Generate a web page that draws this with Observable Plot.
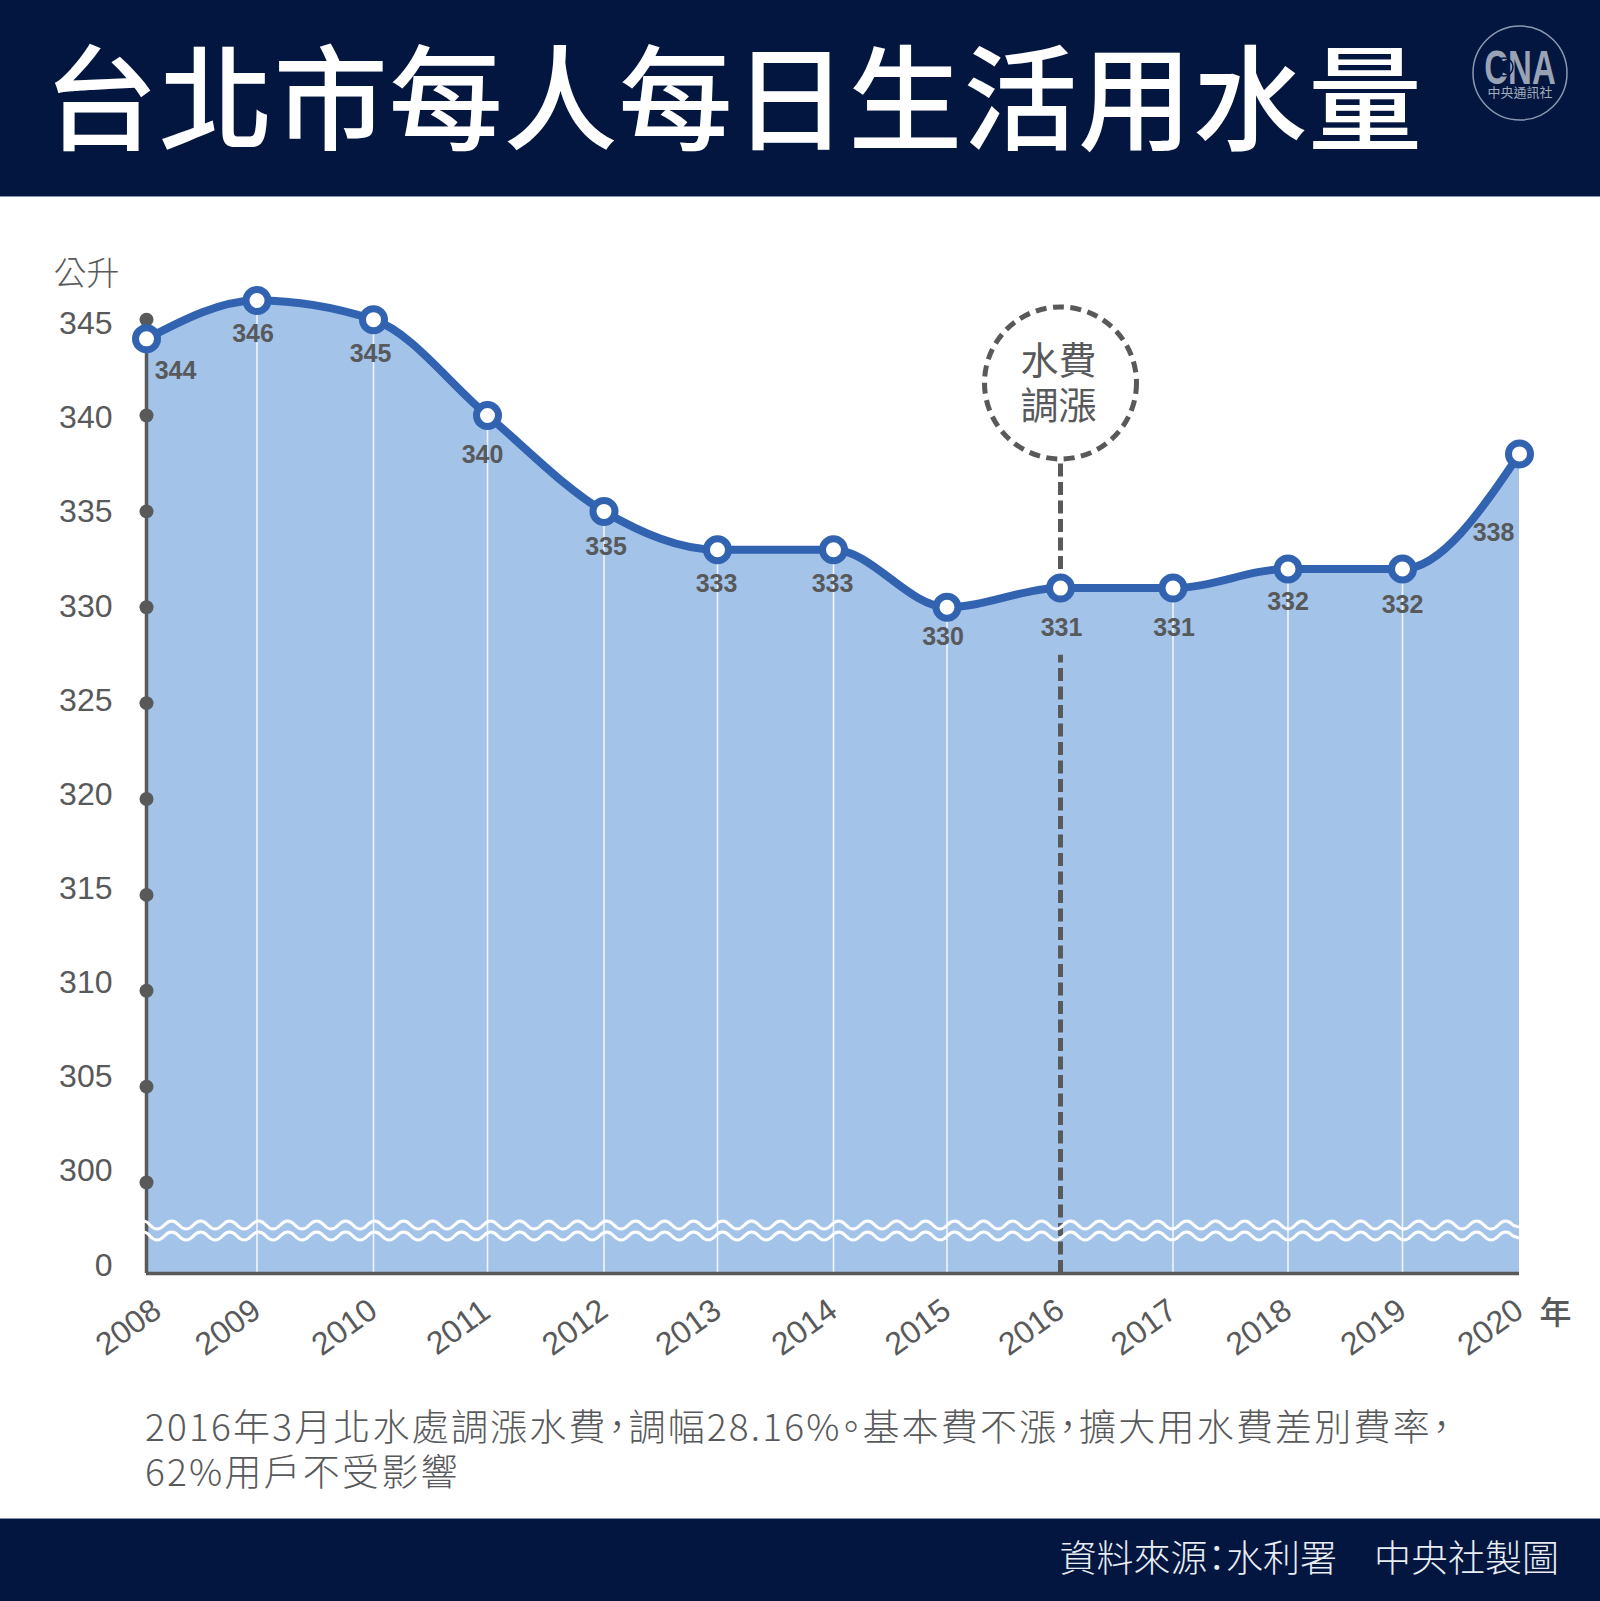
<!DOCTYPE html>
<html lang="zh-Hant">
<head>
<meta charset="utf-8">
<script src="https://cdn.jsdelivr.net/npm/d3@7"></script>
<script src="https://cdn.jsdelivr.net/npm/@observablehq/plot@0.6"></script>
<style>
  html, body { margin: 0; padding: 0; background: #fff; }
  body { width: 1600px; height: 1601px; overflow: hidden; position: relative;
         font-family: "Noto Sans CJK TC", "Noto Sans", sans-serif; }
  #head { position: absolute; left: 0; top: 0; width: 1600px; height: 196px; background: #02163f;
          border-bottom: 1px solid #8593ae; }
  #head h1 { position: absolute; left: 44px; top: 12px; margin: 0; color: #fff; font-size: 114px;
             line-height: 160px; font-weight: 500; white-space: nowrap; letter-spacing: 0.9px; }
  #logo { position: absolute; left: 1464px; top: 16px; }
  #chart { position: absolute; left: 0; top: 197px; }
  #note { position: absolute; left: 145px; top: 1403px; color: #58595b; font-size: 37px; line-height: 45px;
          font-weight: 300; letter-spacing: 2.2px; font-feature-settings: "palt"; white-space: nowrap; }
  #foot { position: absolute; left: 0; top: 1518px; width: 1600px; height: 83px; background: #02163f;
          border-top: 1px solid #8593ae; box-sizing: border-box; }
  #foot p { position: absolute; right: 41px; top: 0; margin: 0; color: #e9edf3; font-size: 37px; line-height: 74px;
            font-weight: 300; font-feature-settings: "palt"; white-space: pre; }
</style>
</head>
<body>
<div id="head">
  <h1 id="title"></h1>
  <svg id="logo" width="112" height="112" viewBox="0 0 112 112">
    <circle cx="56" cy="57" r="47" fill="none" stroke="#8c98b0" stroke-width="1.5"></circle>
    <text transform="translate(56,68) scale(1,1.45)" text-anchor="middle"
          font-family="Liberation Sans" font-weight="700" font-size="33" fill="#9aa3b6">CNA</text>
    <circle cx="40" cy="51" r="9" fill="none" stroke="#02163f" stroke-width="1.5"></circle>
    <text x="56" y="81" text-anchor="middle" font-family="Noto Sans CJK TC" font-size="13" fill="#a3acbd">中央通訊社</text>
  </svg>
</div>
<div id="chart"></div>
<div id="note"></div>
<div id="foot"><p id="source"></p></div>

<script>
// ---- text ----
const titleText = "台北市每人每日生活用水量";
const noteLines = ["2016年3月北水處調漲水費\uFF0C調幅28.16%\u3002基本費不漲\uFF0C擴大用水費差別費率\uFF0C", "62%用戶不受影響"];
const sourceText = "資料來源\uFF1A水利署\u3000中央社製圖";
const yUnit = "公升";
const xUnit = "年";
const calloutText = "水費\n調漲";

// ---- data ----
const years = [2008, 2009, 2010, 2011, 2012, 2013, 2014, 2015, 2016, 2017, 2018, 2019, 2020];
const litres = [344, 346, 345, 340, 335, 333, 333, 330, 331, 331, 332, 332, 338];
const yTicks = [0, 300, 305, 310, 315, 320, 325, 330, 335, 340, 345];
const rateRiseYear = 2016;
const breakLevels = [158, 122];

// ---- scale layout (picture's uneven year spacing and broken y axis) ----
const xRange = [146, 256.5, 373, 487, 603.5, 717, 833, 946.5, 1060, 1172.5, 1287.5, 1402, 1519];
const yDomain = [0, 300, 346];
const yRange = [1076, 985, 103];

// ---- styles ----
const ink = "#58595b", blue = "#3163b0", fillBlue = "#a4c3e9";
const latin = "'Liberation Sans', Arial, sans-serif", cjk = "'Noto Sans CJK TC', sans-serif";

const rows = years.map((year, i) => ({year, value: litres[i]}));
const inner = rows.slice(1, -1).filter(d => d.year !== rateRiseYear);

// Labels sit at slightly different spacing from the tick dots in the picture.
const tickLabelY = v => v === 0 ? 26 : 330.05 + (v - 330) * 0.982;

// Offset groups for value labels.
const labelGroups = [
  {years: [2009], dx: -4, dy: 33},
  {years: [2010], dx: -3, dy: 34},
  {years: [2012], dx: 2, dy: 36},
  {years: [2013, 2014], dx: -1, dy: 34},
  {years: [2018], dx: 0, dy: 33},
  {years: [2011], dx: -5, dy: 39},
  {years: [2015], dx: -4, dy: 30},
  {years: [2016, 2017], dx: 1, dy: 40},
  {years: [2019], dx: 0, dy: 36},
  {years: [2008], dx: 29, dy: 32},
  {years: [2020], dx: -26, dy: 79}
];

// Axis-break wave lines, positioned through the scales.
function breakWaves(index, {x, y}) {
  const g = d3.create("svg:g").attr("fill", "none").attr("stroke", "#fff").attr("stroke-width", 3);
  const half = 14.5, amp = 4, start = x(2008) + 3.9, end = x(2020);
  for (const level of breakLevels) {
    const yy = y(level);
    let d = `M${x(2008) - 3},${yy - amp} Q${x(2008) + 1},${yy - amp} ${start},${yy} `;
    let cx = start, sign = 1;
    while (cx + half <= end) {
      d += `Q${cx + half / 2},${yy + sign * 2 * amp} ${cx + half},${yy} `;
      cx += half; sign = -sign;
    }
    d += `L${end},${yy + sign * 2}`;
    g.append("path").attr("d", d);
  }
  return g.node();
}

const chart = Plot.plot({
  width: 1600,
  height: 1189,
  margin: 0,
  style: {background: "transparent", overflow: "visible", fontFamily: latin},
  x: {type: "linear", domain: years, range: xRange, axis: null},
  y: {type: "linear", domain: yDomain, range: yRange, axis: null},
  marks: [
    Plot.areaY(rows, {x: "year", y1: 0, y2: "value", curve: "monotone-x", fill: fillBlue}),
    Plot.ruleX(inner, {x: "year", y1: 0, y2: "value", stroke: "#fff", strokeWidth: 1.6, strokeOpacity: 0.85}),

    // rate-rise marker
    Plot.ruleX([rateRiseYear], {y1: 0, y2: 327.5, stroke: ink, strokeWidth: 5, strokeDasharray: "13,5.5"}),
    Plot.ruleX([rateRiseYear], {y1: 331, y2: 337.6, stroke: ink, strokeWidth: 5, strokeDasharray: "13,5.5"}),
    Plot.dot([rateRiseYear], {x: d => d, y: () => 341.7, r: 76, fill: "none", stroke: ink, strokeWidth: 5, strokeDasharray: "11,6.5"}),
    Plot.text([calloutText], {x: () => rateRiseYear, y: () => 341.7, dx: -2, dy: -1, fontSize: 38, fontFamily: cjk, fontWeight: 400, lineHeight: 1.2, fill: ink}),

    // axes
    Plot.ruleX([2008], {y1: 0, y2: 345, stroke: ink, strokeWidth: 3.5}),
    Plot.ruleY([0], {x1: 2008, x2: 2020, stroke: ink, strokeWidth: 3.5}),
    Plot.dot(yTicks.filter(v => v > 0), {x: () => 2008, y: d => d, r: 7, fill: ink}),
    Plot.text(yTicks, {x: () => 2008, y: tickLabelY, text: d => String(d), dx: -34, textAnchor: "end", fontSize: 32, fill: ink, fontFamily: latin}),
    Plot.text([yUnit], {x: () => 2008, y: () => 346, dx: -60, dy: -26, fontSize: 33, fontWeight: 300, fontFamily: cjk, fill: ink}),
    Plot.text(years.slice(0, 1), {x: d => d, y: () => 0, text: d => String(d), dx: -18, dy: 54, rotate: -36, fontSize: 32, fill: ink, fontFamily: latin}),
    Plot.text(years.slice(1), {x: d => d, y: () => 0, text: d => String(d), dx: -29, dy: 54, rotate: -36, fontSize: 32, fill: ink, fontFamily: latin}),
    Plot.text([xUnit], {x: () => 2020, y: () => 0, dx: 36, dy: 40, fontSize: 32, fontWeight: 500, fontFamily: cjk, fill: ink}),

    breakWaves,

    // series
    Plot.line(rows, {x: "year", y: "value", curve: "monotone-x", stroke: blue, strokeWidth: 8}),
    Plot.dot(rows, {x: "year", y: "value", r: 11, fill: "#fff", stroke: blue, strokeWidth: 7}),
    ...labelGroups.map(g => Plot.text(rows.filter(d => g.years.includes(d.year)), {
      x: "year", y: "value", text: d => String(d.value), dx: g.dx, dy: g.dy,
      fontSize: 25, fontWeight: 700, fill: ink, fontFamily: latin
    }))
  ]
});
document.getElementById("chart").append(chart);
document.getElementById("title").textContent = titleText;
document.getElementById("note").innerHTML = noteLines.join("<br>");
document.getElementById("source").textContent = sourceText;
</script>
</body>
</html>
